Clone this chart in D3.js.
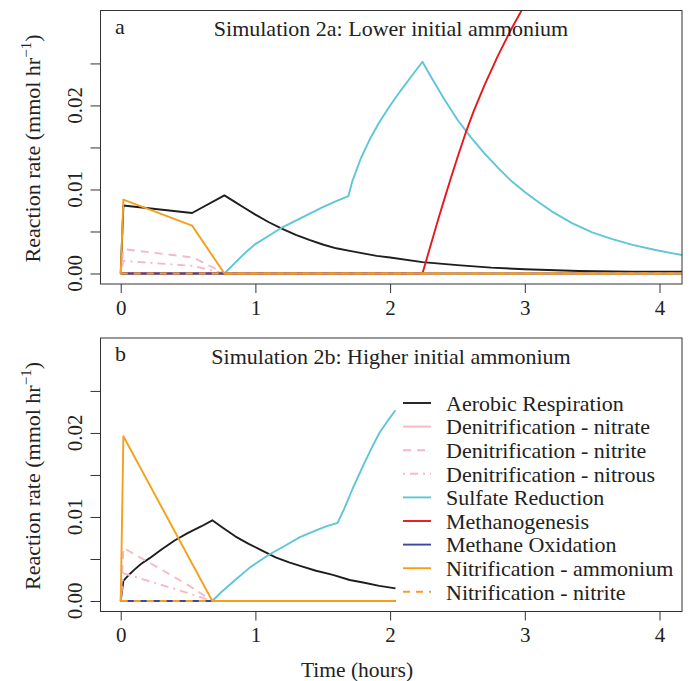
<!DOCTYPE html>
<html>
<head>
<meta charset="utf-8">
<title>Simulation 2 reaction rates</title>
<script src="https://cdn.jsdelivr.net/npm/d3@7"></script>
<style>
  body { margin: 0; background: #fff; }
  svg text { font-family: "Liberation Serif", "DejaVu Serif", serif; fill: #222; }
</style>
</head>
<body>
<svg id="chart" width="692" height="681"></svg>
<script>
// series names, in drawing order
var seriesNames = ["Aerobic Respiration", "Denitrification - nitrate", "Denitrification - nitrite",
  "Denitrification - nitrous", "Sulfate Reduction", "Methanogenesis", "Methane Oxidation",
  "Nitrification - ammonium", "Nitrification - nitrite"];

var xTicks = [0, 1, 2, 3, 4];
var yTicks = [0, 0.005, 0.01, 0.015, 0.02, 0.025];
var yLabelled = [0, 0.01, 0.02];

// panel a: lower initial ammonium, [time (h), rate]
var aerobicA = [[0,0],[0.02,0.0081],[0.53,0.0072],[0.77,0.0093],[0.85,0.0085],[0.92,0.0078],[1.0,0.0070],
  [1.1,0.0061],[1.2,0.0053],[1.3,0.0046],[1.4,0.0040],[1.5,0.00345],[1.6,0.0030],[1.7,0.0027],[1.8,0.0024],
  [1.9,0.0021],[2.0,0.0019],[2.24,0.00135],[2.5,0.0010],[2.75,0.0007],[3.0,0.0005],[3.4,0.0003],
  [3.8,0.0002],[4.2,0.0002]];
var nitrateA = [[0,0],[4.2,0]];
var nitriteA = [[0,0],[0.02,0.0029],[0.54,0.0019],[0.77,0],[4.2,0]];
var nitrousA = [[0,0],[0.02,0.0015],[0.54,0.0009],[0.77,0],[4.2,0]];
var sulfateA = [[0,0],[0.77,0],[0.85,0.0013],[0.92,0.0024],[1.0,0.0035],[1.1,0.0045],[1.2,0.0055],
  [1.3,0.0063],[1.4,0.0071],[1.5,0.0079],[1.6,0.0086],[1.69,0.0092],[1.72,0.0110],[1.78,0.0136],
  [1.85,0.0160],[1.92,0.0180],[2.0,0.0200],[2.08,0.0218],[2.16,0.0235],[2.24,0.0252],[2.3,0.0235],
  [2.4,0.0208],[2.5,0.0183],[2.6,0.0162],[2.7,0.0143],[2.8,0.0126],[2.9,0.0110],[3.0,0.0097],
  [3.1,0.0085],[3.2,0.0074],[3.35,0.0060],[3.5,0.0049],[3.65,0.0041],[3.8,0.0034],[3.97,0.0028],
  [4.1,0.0024],[4.2,0.0021]];
var methanoA = [[0,0],[2.24,0],[2.28,0.0022],[2.32,0.0044],[2.36,0.0066],[2.4,0.0087],[2.45,0.0113],
  [2.5,0.0138],[2.56,0.0167],[2.62,0.0193],[2.7,0.0224],[2.8,0.0259],[2.9,0.0291],[3.0,0.0320]];
var methOxA = [[0,0],[4.2,0]];
var ammoniumA = [[0,0],[0.02,0.0088],[0.53,0.0057],[0.77,0],[4.2,0]];
var nitNitriteA = [[0,0],[4.2,0]];

// panel b: higher initial ammonium
var aerobicB = [[0,0],[0.02,0.0024],[0.06,0.0031],[0.1,0.0037],[0.15,0.0044],[0.215,0.0051],[0.3,0.0061],
  [0.4,0.0072],[0.5,0.0081],[0.6,0.0089],[0.68,0.0096],[0.75,0.0088],[0.85,0.0077],[0.95,0.0068],
  [1.05,0.0060],[1.15,0.0052],[1.25,0.0046],[1.35,0.0041],[1.45,0.0036],[1.575,0.0031],[1.7,0.0025],
  [1.8,0.0022],[1.92,0.0018],[2.04,0.0015]];
var nitrateB = [[0,0],[2.04,0]];
var nitriteB = [[0,0],[0.02,0.0063],[0.264,0.0041],[0.51,0.0018],[0.68,0],[2.04,0]];
var nitrousB = [[0,0],[0.02,0.0033],[0.264,0.0021],[0.51,0.0009],[0.68,0],[2.04,0]];
var sulfateB = [[0,0],[0.68,0],[0.75,0.0011],[0.85,0.0025],[0.96,0.0040],[1.1,0.0055],[1.2,0.0064],
  [1.33,0.0076],[1.45,0.0084],[1.53,0.0089],[1.61,0.0093],[1.66,0.0110],[1.72,0.0133],[1.8,0.0161],
  [1.86,0.0181],[1.92,0.0200],[1.98,0.0214],[2.04,0.0227]];
var methanoB = [[0,0],[2.04,0]];
var methOxB = [[0,0],[2.04,0]];
var ammoniumB = [[0,0],[0.02,0.0196],[0.68,0],[2.04,0]];
var nitNitriteB = [[0,0],[2.04,0]];

var colors = ["#1e1e1e", "#f7b8c6", "#f7b8c6", "#f7b8c6", "#5ec6d6", "#e8161d", "#3a4a9e", "#f5a01c", "#f5a01c"];
var dashes = [null, null, "8,6", "2,5,8,5", null, null, null, null, "7,6"];

var svg = d3.select("#chart");
var x = d3.scaleLinear().domain([-0.15, 4.167]).range([100.5, 682]);

function drawPanel(id, top, letter, title, data, legend) {
  var y = d3.scaleLinear().domain([-0.00125, 0.0313]).range([top + 273.5, top]);
  var g = svg.append("g");

  g.append("clipPath").attr("id", "clip" + id)
    .append("rect").attr("x", 100.5).attr("y", top).attr("width", 581.5).attr("height", 273.5);

  var line = d3.line().x(function(d) { return x(d[0]); }).y(function(d) { return y(d[1]); });
  var lines = g.append("g").attr("clip-path", "url(#clip" + id + ")");
  data.forEach(function(s, i) {
    lines.append("path").attr("d", line(s)).attr("fill", "none")
      .attr("stroke", colors[i]).attr("stroke-width", 1.9)
      .attr("stroke-linejoin", "round")
      .attr("stroke-dasharray", dashes[i]);
  });

  // box
  g.append("rect").attr("x", 100.5).attr("y", top).attr("width", 581.5).attr("height", 273.5)
    .attr("fill", "none").attr("stroke", "#333").attr("stroke-width", 1);

  // x axis
  var xa = g.append("g").attr("transform", "translate(0," + (top + 273.5) + ")")
    .call(d3.axisBottom(x).tickValues(xTicks).tickSize(9).tickPadding(7).tickFormat(d3.format("d")));
  xa.select(".domain").remove();
  xa.selectAll("line").attr("stroke", "#333");
  xa.selectAll("text").attr("font-size", 21).attr("fill", "#222")
    .attr("font-family", "Liberation Serif");

  // y axis, labels parallel to the axis
  var ya = g.append("g").attr("transform", "translate(100.5,0)")
    .call(d3.axisLeft(y).tickValues(yTicks).tickSize(10).tickFormat(""));
  ya.select(".domain").remove();
  ya.selectAll("line").attr("stroke", "#333");
  yLabelled.forEach(function(v) {
    g.append("text").attr("transform", "translate(81.5," + y(v) + ") rotate(-90)")
      .attr("text-anchor", "middle").attr("font-size", 21).text(d3.format(".2f")(v));
  });

  var yl = g.append("text")
    .attr("transform", "translate(40," + (top + 138) + ") rotate(-90)")
    .attr("text-anchor", "middle").attr("font-size", 22);
  yl.append("tspan").text("Reaction rate (mmol hr");
  yl.append("tspan").attr("font-size", 15).attr("dy", -9).text("\u22121");
  yl.append("tspan").attr("dy", 9).text(")");

  g.append("text").attr("x", 115).attr("y", top + 23).attr("font-size", 22).text(letter);
  g.append("text").attr("x", 391).attr("y", top + 25.5).attr("text-anchor", "middle")
    .attr("font-size", 22).text(title);

  if (legend) {
    var lg = g.append("g");
    seriesNames.forEach(function(name, i) {
      var yy = 403 + i * 23.6;
      lg.append("line").attr("x1", 403).attr("x2", 431).attr("y1", yy).attr("y2", yy)
        .attr("stroke", colors[i]).attr("stroke-width", 1.9).attr("stroke-dasharray", dashes[i]);
      lg.append("text").attr("x", 446).attr("y", yy).attr("dy", "0.35em")
        .attr("font-size", 22).text(name);
    });
  }
}

drawPanel("a", 10.5, "a", "Simulation 2a: Lower initial ammonium",
  [aerobicA, nitrateA, nitriteA, nitrousA, sulfateA, methanoA, methOxA, ammoniumA, nitNitriteA], false);
drawPanel("b", 338, "b", "Simulation 2b: Higher initial ammonium",
  [aerobicB, nitrateB, nitriteB, nitrousB, sulfateB, methanoB, methOxB, ammoniumB, nitNitriteB], true);

svg.append("text").attr("x", 357).attr("y", 677).attr("text-anchor", "middle")
  .attr("font-size", 21.5).text("Time (hours)");
</script>
</body>
</html>
